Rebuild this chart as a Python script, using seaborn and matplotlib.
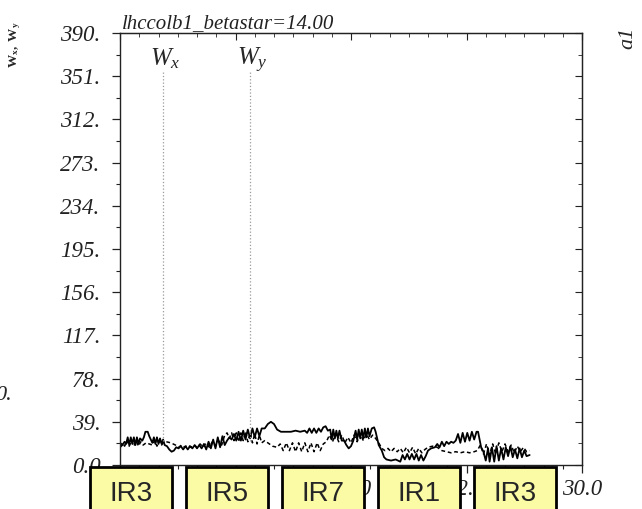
import matplotlib
matplotlib.use("Agg")
import matplotlib.pyplot as plt
from matplotlib.patches import Rectangle
from matplotlib.ticker import FixedLocator, FixedFormatter, NullFormatter
import seaborn as sns

# ---------------- data ----------------
title = "lhccolb1_betastar=14.00"
ir_labels = ["IR3", "IR5", "IR7", "IR1", "IR3"]
y_ticks = [0, 39, 78, 117, 156, 195, 234, 273, 312, 351, 390]
y_ticklabels = ["0.0", "39.", "78.", "117.", "156.", "195.", "234.", "273.", "312.", "351.", "390."]
x_ticks = [0, 7.5, 15, 22.5, 30]
x_ticklabels = ["0.0", "7.5", "15.0", "22.5", "30.0"]
wx_marker_s = 2.79
wy_marker_s = 8.44

s_wx = [0.0, 0.15, 0.3, 0.4, 0.5, 0.6, 0.7, 0.8, 0.9, 1.0, 1.1, 1.2, 1.3, 1.45,
        1.55, 1.65, 1.8, 1.9, 2.0,
        2.1, 2.2, 2.3, 2.4, 2.5, 2.6, 2.7, 2.8, 2.9,
        3.05, 3.2, 3.35, 3.5, 3.65,
        3.8, 3.95, 4.1, 4.25, 4.4, 4.55, 4.7, 4.85, 5.0, 5.15, 5.3, 5.45,
        5.6, 5.75, 5.9, 6.05, 6.2, 6.35, 6.5, 6.65, 6.8,
        6.95, 7.1, 7.25,
        7.4, 7.55, 7.7, 7.85, 8.0, 8.15, 8.3, 8.45, 8.6, 8.75, 8.9, 9.05, 9.2,
        9.4, 9.6, 9.8, 10.0, 10.2, 10.45,
        10.8, 11.1, 11.4, 11.7, 12.0, 12.15, 12.3, 12.45, 12.6, 12.75, 12.9, 13.05, 13.2, 13.35, 13.5,
        13.65, 13.75, 13.85, 13.95, 14.05, 14.15, 14.25, 14.4, 14.55, 14.7, 14.85, 15.0, 15.15,
        15.3, 15.4, 15.5, 15.6, 15.7, 15.8, 15.9, 16.0, 16.1, 16.2, 16.35, 16.5, 16.6,
        16.8, 17.0, 17.15, 17.3,
        17.6, 17.9, 18.2,
        18.35, 18.5, 18.65, 18.8, 18.95, 19.1, 19.25, 19.4, 19.55, 19.7, 19.85,
        20.0, 20.2, 20.45,
        20.6, 20.75, 20.9, 21.05, 21.2, 21.35, 21.5, 21.65, 21.8,
        21.95, 22.1, 22.25, 22.4, 22.55, 22.7, 22.85, 23.0, 23.15, 23.25,
        23.45, 23.6, 23.75,
        23.9, 24.0, 24.15, 24.3, 24.45, 24.6, 24.75, 24.9, 25.05, 25.2, 25.35, 25.5, 25.65, 25.8,
        25.95, 26.1, 26.25, 26.4, 26.6]
wx = [16, 18, 21, 19, 25, 18, 25, 19, 25, 18, 25, 19, 24, 22,
      25, 30, 30, 26, 23,
      20, 25, 19, 25, 19, 24, 19, 23, 18,
      17, 14, 12, 13, 16,
      15, 17, 14, 17, 14, 17, 15, 18, 15, 18, 15, 19,
      14, 21, 15, 23, 15, 25, 16, 26, 18,
      22, 25, 23,
      28, 22, 30, 22, 31, 23, 32, 24, 33, 25, 33, 26, 33,
      33, 37, 39, 37, 32, 30,
      30, 30, 31, 30, 31, 29, 33, 29, 33, 29, 33, 30, 34, 35, 31,
      32, 23, 32, 24, 31, 24, 31, 22, 22, 18, 15, 17, 22,
      31, 23, 32, 24, 32, 24, 33, 25, 33, 26, 33, 34, 30,
      18, 13, 7, 5,
      4, 5, 3,
      9, 5, 10, 5, 10, 5, 10, 4, 9, 4, 8,
      13, 15, 16,
      19, 16, 21, 17, 21, 19, 21, 20, 22,
      28, 20, 29, 21, 29, 22, 30, 23, 30, 30,
      16, 12, 4,
      15, 3, 16, 3, 17, 4, 15, 5, 16, 8, 17, 7, 14, 6,
      15, 7, 13, 8, 9]

s_wy = [0.0, 0.15, 0.3, 0.45, 0.6, 0.75, 0.9, 1.05, 1.2, 1.35, 1.5, 1.7, 1.9, 2.1, 2.25, 2.4,
        2.55, 2.7, 2.85, 3.0, 3.3, 3.6, 3.8, 4.0, 4.2, 4.4, 4.6, 4.8, 5.0, 5.2, 5.4, 5.6, 5.8,
        6.0, 6.2, 6.4, 6.6, 6.8, 6.95, 7.1, 7.25, 7.4, 7.55, 7.7, 7.85, 8.0, 8.15, 8.3, 8.45,
        8.6, 8.75, 8.9, 9.05, 9.2, 9.4, 9.6, 9.9, 10.2, 10.4, 10.6, 10.8, 11.0, 11.2, 11.4,
        11.6, 11.8, 12.0, 12.2, 12.4, 12.6, 12.8, 13.0, 13.2, 13.4, 13.6, 13.8, 14.0, 14.2,
        14.4, 14.6, 14.8, 15.0, 15.2, 15.4, 15.6, 15.8, 16.0, 16.2, 16.4, 16.6, 16.8, 17.0,
        17.2, 17.4, 17.6, 17.8, 18.0, 18.2, 18.4, 18.6, 18.8, 19.0, 19.2, 19.4, 19.6, 19.8,
        20.0, 20.3, 20.6, 20.9, 21.2, 21.5, 21.8, 22.1, 22.4, 22.7, 23.0, 23.2, 23.4, 23.6,
        23.8, 24.0, 24.2, 24.4, 24.6, 24.8, 25.0, 25.2, 25.4, 25.6, 25.8, 26.0, 26.2, 26.4, 26.6]
wy = [17, 20, 17, 22, 17, 22, 17, 22, 17, 21, 18, 20, 19, 18, 22, 17,
      22, 18, 21, 21, 20, 18, 16, 18, 16, 18, 16, 18, 16, 19, 16, 20, 16,
      21, 17, 22, 18, 27, 29, 24, 29, 22, 29, 21, 29, 22, 30, 21, 29,
      20, 28, 19, 27, 20, 22, 20, 17, 16, 19, 13, 20, 13, 20, 12,
      20, 12, 20, 12, 20, 12, 20, 13, 19, 21, 27, 21, 28, 21,
      27, 20, 25, 20, 27, 21, 28, 22, 28, 23, 27, 24, 20, 15,
      13, 15, 12, 15, 12, 15, 11, 16, 11, 16, 10, 15, 11, 14,
      16, 17, 16, 13, 12, 11, 12, 11, 12, 11, 12, 13, 18, 10,
      19, 9, 19, 10, 20, 12, 19, 12, 18, 11, 17, 12, 16, 12, 13]

# ---------------- style ----------------
sns.set_style("ticks")
plt.rcParams["font.family"] = ["Liberation Serif", "DejaVu Serif"]
plt.rcParams["mathtext.fontset"] = "custom"
plt.rcParams["mathtext.rm"] = "Liberation Serif"
plt.rcParams["mathtext.it"] = "Liberation Serif:italic"
plt.rcParams["mathtext.bf"] = "Liberation Serif:bold"

W, H = 642, 509
fig = plt.figure(figsize=(W / 100, H / 100), dpi=100)
fig.patch.set_facecolor("white")
ax = fig.add_axes([120 / W, 44 / H, 462 / W, 432 / H])
ax.set_facecolor("white")

sns.lineplot(x=s_wx, y=wx, ax=ax, color="black", lw=1.3, sort=False, estimator=None)
sns.lineplot(x=s_wy, y=wy, ax=ax, color="black", lw=1.1, sort=False, estimator=None,
             linestyle=(0, (2.5, 1.8)))

ax.vlines([wx_marker_s, wy_marker_s], 22, 356, colors="#9a9a9a", linestyles=":", lw=0.9)

ax.set_xlim(0, 30)
ax.set_ylim(0, 390)
for sp in ax.spines.values():
    sp.set_visible(True)
    sp.set_linewidth(1.0)
    sp.set_color("#222222")

ax.yaxis.set_major_locator(FixedLocator(y_ticks))
ax.yaxis.set_major_formatter(FixedFormatter(y_ticklabels))
ax.yaxis.set_minor_locator(FixedLocator([t + 19.5 for t in y_ticks[:-1]]))
ax.xaxis.set_major_locator(FixedLocator(x_ticks))
ax.xaxis.set_major_formatter(FixedFormatter(x_ticklabels))
ax.xaxis.set_minor_locator(FixedLocator([i * 1.25 for i in range(25)]))
ax.tick_params(which="both", direction="out", top=False, right=False, color="#222222")
ax.tick_params(which="major", length=6, width=0.9)
ax.tick_params(which="minor", length=3, width=0.8)
ax.tick_params(axis="y", labelsize=16.5, pad=8)
ax.tick_params(axis="x", labelsize=16.5, pad=4)
for lab in ax.get_xticklabels() + ax.get_yticklabels():
    lab.set_fontstyle("italic")
    lab.set_color("#222222")
ax.set_xlabel("")
ax.set_ylabel("")

secx = ax.secondary_xaxis("top")
secx.xaxis.set_major_locator(FixedLocator(x_ticks))
secx.xaxis.set_minor_locator(FixedLocator([i * 1.25 for i in range(25)]))
secx.xaxis.set_major_formatter(NullFormatter())
secx.tick_params(which="both", direction="in", color="#222222")
secx.tick_params(which="major", length=5)
secx.tick_params(which="minor", length=3)
secy = ax.secondary_yaxis("right")
secy.yaxis.set_major_locator(FixedLocator(y_ticks))
secy.yaxis.set_minor_locator(FixedLocator([t + 19.5 for t in y_ticks[:-1]]))
secy.yaxis.set_major_formatter(NullFormatter())
secy.tick_params(which="both", direction="in", color="#222222")
secy.tick_params(which="major", length=5)
secy.tick_params(which="minor", length=3)

# ---------------- texts ----------------
fig.text(122 / W, 1 - 28 / H, title, fontsize=15, fontstyle="italic", va="baseline",
         color="#222222")
fig.text(150 / W, 1 - 65 / H, r"$W_x$", fontsize=18, va="baseline")
fig.text(237 / W, 1 - 65 / H, r"$W_y$", fontsize=18, va="baseline")
fig.text(15 / W, 1 - 45 / H, r"$\mathbf{W_x,\ W_y}$", rotation=90, fontsize=9.5,
         ha="center", va="center")
fig.text(628 / W, 1 - 38 / H, "a1", rotation=90, fontsize=16, fontstyle="italic",
         ha="center", va="center")
fig.text(-5 / W, 1 - 396 / H, "0.", fontsize=16, fontstyle="italic", ha="left", va="center")

# ---------------- IR boxes ----------------
for i, lab in enumerate(ir_labels):
    left = 90 + 96 * i
    rect = Rectangle((left / W, -0.05), 82 / W, (H - 467) / H + 0.05,
                     transform=fig.transFigure, facecolor="#fbfba6", edgecolor="black",
                     lw=2.0, clip_on=False, zorder=5)
    fig.add_artist(rect)
    fig.text((left + 41) / W, 1 - 494 / H, lab, fontsize=20, ha="center", va="center",
             family="Liberation Sans", zorder=6)

fig.savefig("out.png", dpi=100)
